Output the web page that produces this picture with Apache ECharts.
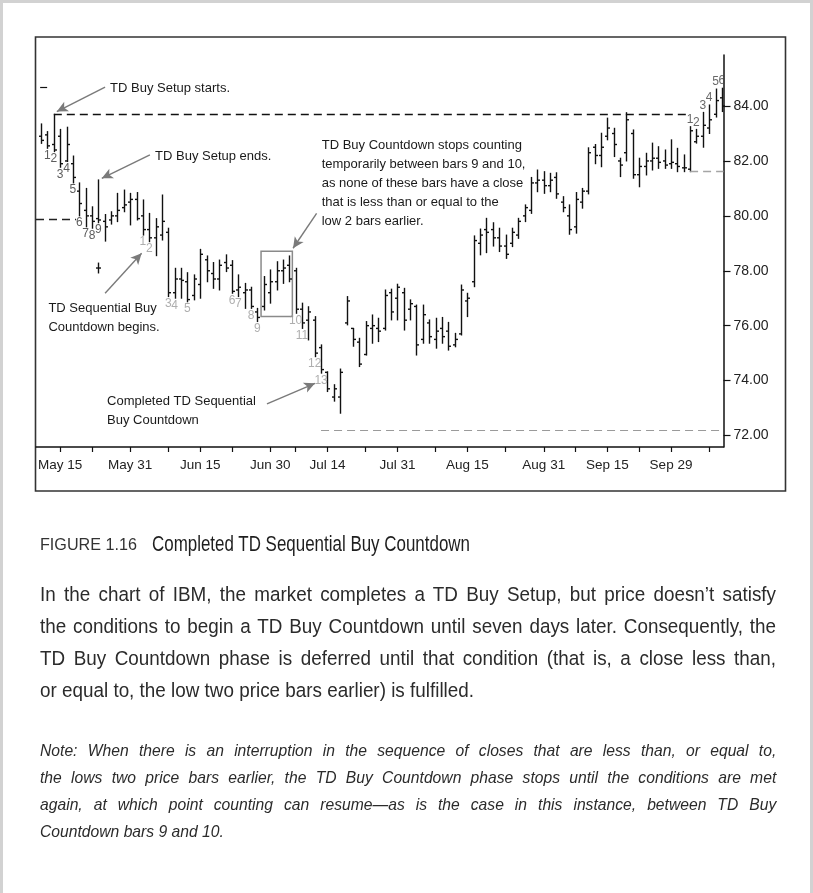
<!DOCTYPE html>
<html>
<head>
<meta charset="utf-8">
<title>Completed TD Sequential Buy Countdown</title>
<script src="https://cdn.jsdelivr.net/npm/echarts@6/dist/echarts.min.js"></script>
<style>
  html, body { margin: 0; padding: 0; background: #fff; }
  #page { position: relative; width: 813px; height: 893px; overflow: hidden; background: #fff; }
  #frame { position: absolute; left: 0; top: 0; width: 807px; height: 896px; border: 3px solid #d2d2d2; }
  #chart { position: absolute; left: 0; top: 0; width: 813px; height: 893px; }
  .txt { position: absolute; left: 40px; color: #2b2b2b; font-family: 'Liberation Sans', Arial, sans-serif; transform-origin: 0 0; }
  .txt div { white-space: nowrap; text-align: justify; text-align-last: justify; }
  .txt div.last { text-align-last: left; }
  #fignum { top: 531px; font-size: 17px; line-height: 28px; color: #333; white-space: nowrap; transform: scaleX(0.95); }
  #figttl { left: 152px; top: 530px; font-size: 22px; line-height: 28px; color: #1e1e1e; white-space: nowrap; transform: scaleX(0.77); }
  #para { top: 578px; width: 800px; font-size: 20.5px; line-height: 32px; transform: scaleX(0.92); }
  #note { top: 737px; width: 775px; font-size: 16.5px; line-height: 27px; font-style: italic; transform: scaleX(0.95); }
</style>
</head>
<body>
<div id="page">
  <div id="chart"></div>
  <div id="frame"></div>
  <div id="fignum" class="txt">FIGURE 1.16</div>
  <div id="figttl" class="txt">Completed TD Sequential Buy Countdown</div>
  <div id="para" class="txt">
    <div>In the chart of IBM, the market completes a TD Buy Setup, but price doesn’t satisfy</div>
    <div>the conditions to begin a TD Buy Countdown until seven days later. Consequently, the</div>
    <div>TD Buy Countdown phase is deferred until that condition (that is, a close less than,</div>
    <div class="last">or equal to, the low two price bars earlier) is fulfilled.</div>
  </div>
  <div id="note" class="txt">
    <div>Note: When there is an interruption in the sequence of closes that are less than, or equal to,</div>
    <div>the lows two price bars earlier, the TD Buy Countdown phase stops until the conditions are met</div>
    <div>again, at which point counting can resume—as is the case in this instance, between TD Buy</div>
    <div class="last">Countdown bars 9 and 10.</div>
  </div>
</div>
<script>
// IBM daily bars, 10 May - 11 Oct (bar index = position in the arrays)
const opens = [
  82.90, 82.95, 82.60, 82.90, 82.00, 81.90, 80.90, 80.20, 80.00, 79.90,
  79.80, 79.85, 80.00, 80.30, 80.50, 80.60, 80.00, 79.50, 79.20, 79.30,
  79.40, 77.20, 77.70, 77.60, 77.10, 77.50, 78.40, 77.90, 77.70, 78.30,
  78.20, 77.30, 77.20, 77.30, 76.50, 76.70, 77.20, 77.60, 78.00, 78.20,
  78.00, 76.60, 76.20, 76.20, 75.20, 74.30, 73.40, 73.40, 76.10, 75.90,
  75.40, 74.95, 75.90, 75.90, 75.90, 77.20, 77.00, 77.20, 76.60, 76.70,
  75.50, 76.10, 75.50, 75.90, 75.80, 75.30, 75.70, 76.90, 77.60, 79.00,
  79.50, 79.50, 79.20, 78.90, 79.00, 79.30, 80.00, 80.20, 81.20, 81.30,
  81.10, 81.40, 80.50, 80.00, 79.60, 80.50, 80.90, 82.50, 82.20, 82.90,
  83.00, 82.00, 82.30, 83.00, 81.50, 81.80, 82.00, 82.10, 82.00, 81.90,
  81.90, 81.75, 81.70, 82.70, 82.90, 83.20, 83.70, 84.30
];
const highs = [
  83.35, 83.07, 83.70, 83.15, 83.23, 82.18, 81.20, 81.00, 80.33, 81.31,
  80.05, 80.15, 80.82, 80.94, 80.82, 80.85, 80.58, 80.09, 79.90, 80.76,
  79.55, 78.09, 78.09, 77.93, 77.85, 78.78, 78.54, 78.30, 78.39, 78.58,
  78.37, 77.85, 77.54, 77.40, 76.63, 77.79, 78.03, 78.33, 78.39, 78.54,
  78.09, 76.82, 76.69, 76.33, 75.30, 74.32, 73.85, 74.42, 77.06, 75.90,
  75.54, 76.15, 76.39, 76.27, 77.30, 77.33, 77.51, 77.36, 76.94, 76.75,
  76.75, 76.21, 76.27, 76.30, 76.12, 75.72, 77.48, 77.18, 79.27, 79.52,
  79.91, 79.75, 79.55, 79.30, 79.55, 79.91, 80.40, 81.40, 81.67, 81.61,
  81.55, 81.57, 80.70, 80.40, 80.85, 81.00, 82.48, 82.60, 83.01, 83.56,
  83.19, 82.10, 83.76, 83.13, 82.10, 82.28, 82.65, 82.52, 82.40, 82.77,
  82.46, 82.22, 83.25, 83.15, 83.77, 84.04, 84.62, 84.65
];
const lows = [
  82.64, 82.46, 82.34, 81.77, 81.98, 81.20, 80.00, 79.60, 79.55, 79.75,
  79.08, 79.70, 79.79, 80.15, 79.67, 79.85, 79.30, 79.06, 78.55, 79.12,
  77.06, 77.00, 77.00, 76.87, 76.94, 77.00, 77.60, 77.36, 77.30, 77.97,
  77.18, 77.06, 76.63, 76.63, 76.15, 76.57, 76.82, 77.30, 77.54, 77.60,
  76.45, 75.90, 75.48, 74.87, 74.27, 73.60, 73.25, 72.81, 76.03, 75.25,
  74.51, 74.93, 75.36, 75.42, 75.84, 76.21, 76.21, 75.84, 76.21, 74.93,
  75.36, 75.36, 75.18, 75.36, 75.11, 75.23, 75.66, 76.33, 77.42, 78.58,
  78.66, 78.90, 78.70, 78.45, 78.88, 79.18, 79.79, 80.09, 80.88, 80.82,
  80.88, 80.64, 80.15, 79.33, 79.37, 80.28, 80.80, 81.90, 81.79, 82.77,
  82.16, 81.43, 82.00, 81.37, 81.06, 81.49, 81.67, 81.73, 81.73, 81.73,
  81.61, 81.61, 81.61, 82.65, 82.50, 83.00, 83.60, 83.80
];
const closes = [
  82.75, 82.55, 82.40, 81.90, 82.60, 81.40, 80.45, 80.00, 79.80, 79.85,
  79.60, 80.00, 80.20, 80.40, 80.60, 79.90, 79.50, 79.20, 79.60, 79.80,
  77.20, 77.70, 77.65, 76.95, 77.70, 78.60, 78.00, 77.70, 78.20, 78.10,
  77.25, 77.40, 77.30, 76.70, 76.30, 77.50, 77.60, 78.00, 78.10, 77.70,
  76.60, 76.10, 76.50, 75.00, 74.40, 73.70, 73.70, 74.30, 76.90, 75.50,
  74.60, 76.00, 76.00, 75.80, 77.10, 76.50, 77.40, 76.20, 76.80, 75.30,
  76.40, 75.60, 75.80, 75.60, 75.25, 75.50, 77.30, 77.00, 79.10, 79.30,
  79.40, 79.20, 78.90, 78.60, 79.40, 79.80, 80.30, 81.20, 81.30, 81.10,
  81.30, 80.80, 80.30, 79.50, 80.60, 80.90, 82.30, 82.20, 82.50, 83.20,
  82.60, 81.85, 83.50, 81.50, 81.80, 82.00, 82.10, 81.95, 81.85, 81.95,
  81.80, 81.75, 83.10, 82.90, 83.30, 83.50, 84.20, 84.00
];
// a stray print drawn under the 9th setup bar: [bar, open, high, low, close]
const strayPrints = [[9, 78.10, 78.28, 77.92, 78.10]];

// TD counts (bar indexes)
const buySetupBars = [1, 2, 3, 4, 5, 6, 7, 8, 9];
const buyCountdownBars = [16, 17, 20, 21, 23, 30, 31, 33, 34, 40, 41, 43, 44];
const sellSetupBars = [102, 103, 104, 105, 106, 107];
const pausedBars = [35, 36, 37, 38, 39];

// axes
const dateTickBars = [3, 8, 14, 20, 25, 30, 36, 40, 45, 51, 56, 62, 67, 73, 79, 84, 89, 94, 99, 105];
const dateLabelBars = [3, 14, 25, 36, 45, 56, 67, 79, 89, 99];
const dateLabels = ['May 15', 'May 31', 'Jun 15', 'Jun 30', 'Jul 14', 'Jul 31', 'Aug 15', 'Aug 31', 'Sep 15', 'Sep 29'];
const priceTicks = [72, 74, 76, 78, 80, 82, 84];

// levels
const priorSupport = 79.88;
const riskLevel = 72.2;

const FONT = "'Liberation Sans', Arial, sans-serif";
const INK = '#111';
const GREY = '#8a8a8a';

const chart = echarts.init(document.getElementById('chart'), null, { renderer: 'canvas' });

const setupHigh = highs[buySetupBars[1]];
const sellStart = sellSetupBars[0];
const cdEnd = buyCountdownBars[buyCountdownBars.length - 1];

function renderBar(params, api) {
  const i = api.value(0);
  const hi = api.coord([i, api.value(2)]);
  const lo = api.coord([i, api.value(3)]);
  const op = api.coord([i, api.value(1)]);
  const cl = api.coord([i, api.value(4)]);
  const x = Math.round(hi[0]) + 0.5;
  const st = { stroke: INK, lineWidth: 1.4 };
  return {
    type: 'group',
    children: [
      { type: 'line', shape: { x1: x, y1: hi[1] - 0.5, x2: x, y2: lo[1] + 0.5 }, style: st },
      { type: 'line', shape: { x1: x - 2.5, y1: op[1], x2: x, y2: op[1] }, style: st },
      { type: 'line', shape: { x1: x, y1: cl[1], x2: x + 2.5, y2: cl[1] }, style: st }
    ]
  };
}

function countSeries(name, bars, side, color) {
  return {
    name: name,
    type: 'scatter',
    symbolSize: 0.1,
    itemStyle: { color: 'rgba(0,0,0,0)' },
    silent: true,
    z: 3,
    data: bars.map((b, k) => [b, side === 'bottom' ? lows[b] : highs[b], String(k + 1)]),
    label: {
      show: true,
      position: side,
      distance: 1,
      formatter: p => p.value[2],
      color: color,
      fontSize: 12,
      fontFamily: FONT
    }
  };
}

function arrow(from, to) {
  return [
    { coord: from, symbol: 'none', lineStyle: { color: '#7a7a7a', width: 1.4, type: 'solid' } },
    { coord: to, symbol: 'arrow', symbolSize: [8, 11] }
  ];
}

function note(at, text) {
  return { coord: at, name: text };
}

const boxLow = Math.min(...pausedBars.map(b => lows[b]));
const boxHigh = Math.max(...pausedBars.map(b => highs[b]));

chart.setOption({
  animation: false,
  backgroundColor: 'transparent',
  textStyle: { fontFamily: FONT },
  grid: { left: 36, top: 55, right: 89.5, bottom: 446, containLabel: false, outerBoundsMode: 'none' },
  graphic: [
    {
      type: 'rect',
      silent: true,
      z: -10,
      shape: { x: 35.5, y: 37, width: 750, height: 454 },
      style: { fill: null, stroke: '#333', lineWidth: 1.6 }
    }
  ],
  xAxis: {
    type: 'value',
    min: -0.8,
    max: 107.25,
    splitLine: { show: false },
    axisLine: { show: true, onZero: false, lineStyle: { color: INK, width: 1.5 } },
    axisTick: { show: true, customValues: dateTickBars, length: 5, lineStyle: { color: INK, width: 1.2 } },
    axisLabel: {
      customValues: dateLabelBars,
      formatter: v => dateLabels[dateLabelBars.indexOf(v)],
      color: '#222',
      fontSize: 13.5,
      margin: 11,
      fontFamily: FONT
    }
  },
  yAxis: {
    type: 'value',
    position: 'right',
    min: 71.58,
    max: 85.86,
    splitLine: { show: false },
    axisLine: { show: true, onZero: false, lineStyle: { color: INK, width: 1.5 } },
    axisTick: { show: true, customValues: priceTicks, length: 7, lineStyle: { color: INK, width: 1.2 } },
    axisLabel: {
      customValues: priceTicks,
      formatter: v => v.toFixed(2),
      color: '#222',
      fontSize: 14,
      margin: 10,
      fontFamily: FONT
    }
  },
  series: [
    {
      name: 'IBM',
      type: 'custom',
      z: 2,
      renderItem: renderBar,
      encode: { x: 0, y: [1, 2, 3, 4] },
      data: opens.map((o, i) => [i, o, highs[i], lows[i], closes[i]])
    },
    {
      name: 'stray',
      type: 'custom',
      z: 2,
      renderItem: renderBar,
      encode: { x: 0, y: [1, 2, 3, 4] },
      data: strayPrints
    },
    countSeries('TD Buy Setup', buySetupBars, 'bottom', '#333'),
    countSeries('TD Sell Setup', sellSetupBars, 'top', '#444'),
    Object.assign(countSeries('TD Buy Countdown', buyCountdownBars, 'bottom', '#9a9a9a'), {
      markLine: {
        silent: true,
        symbol: ['none', 'none'],
        label: { show: false },
        emphasis: { disabled: true },
        data: [
          [
            { coord: [buySetupBars[1], setupHigh], lineStyle: { color: INK, width: 1.4, type: [8, 5] } },
            { coord: [sellStart - 0.15, setupHigh] }
          ],
          [
            { coord: [-0.8, priorSupport], lineStyle: { color: '#222', width: 1.4, type: [8, 5] } },
            { coord: [5.5, priorSupport] }
          ],
          [
            { coord: [sellStart, lows[sellStart]], lineStyle: { color: '#a5a5a5', width: 1.4, type: [8, 5] } },
            { coord: [107.25, lows[sellStart]] }
          ],
          [
            { coord: [cdEnd, riskLevel], lineStyle: { color: '#9a9a9a', width: 1.2, type: [8, 5] } },
            { coord: [107.25, riskLevel] }
          ],
          [
            { coord: [-0.15, 84.7], lineStyle: { color: INK, width: 1.2, type: 'solid' } },
            { coord: [0.95, 84.7] }
          ],
          arrow([10.06, 84.69], [2.47, 83.80]),
          arrow([17.1, 82.22], [9.54, 81.37]),
          arrow([43.3, 80.09], [39.6, 78.82]),
          arrow([10.06, 77.18], [15.8, 78.64]),
          arrow([35.5, 73.15], [43.05, 73.9])
        ]
      },
      markArea: {
        silent: true,
        itemStyle: { color: 'rgba(0,0,0,0)', borderColor: GREY, borderWidth: 1.5 },
        data: [[
          { coord: [pausedBars[0] - 0.43, boxHigh + 0.17] },
          { coord: [pausedBars[pausedBars.length - 1] + 0.49, boxLow - 0.24] }
        ]]
      },
      markPoint: {
        silent: true,
        symbol: 'circle',
        symbolSize: 0,
        label: {
          show: true,
          position: [0, 0],
          align: 'left',
          verticalAlign: 'top',
          formatter: '{b}',
          color: '#1a1a1a',
          fontSize: 13,
          lineHeight: 19,
          fontFamily: FONT
        },
        data: [
          note([10.84, 85.0], 'TD Buy Setup starts.'),
          note([17.91, 82.51], 'TD Buy Setup ends.'),
          note([44.1, 82.93], 'TD Buy Countdown stops counting\ntemporarily between bars 9 and 10,\nas none of these bars have a close\nthat is less than or equal to the\nlow 2 bars earlier.'),
          note([1.15, 76.97], 'TD Sequential Buy\nCountdown begins.'),
          note([10.37, 73.58], 'Completed TD Sequential\nBuy Countdown')
        ]
      }
    })
  ]
});
</script>
</body>
</html>
